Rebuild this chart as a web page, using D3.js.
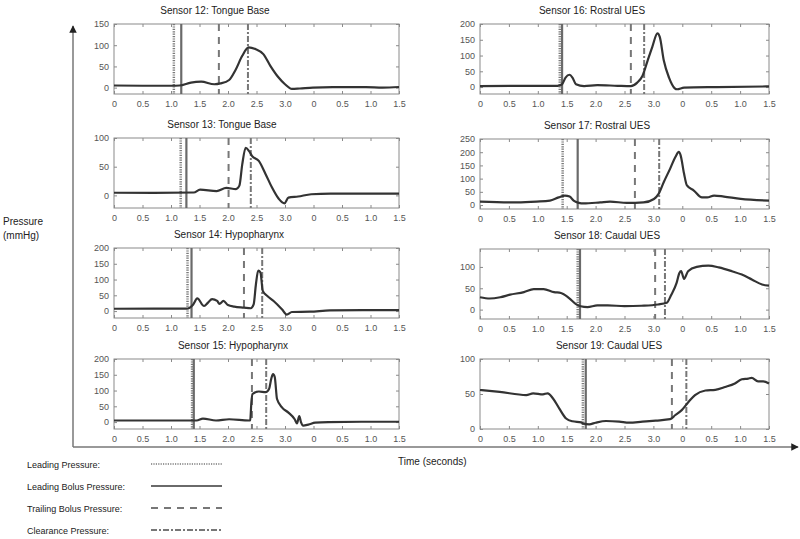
<!DOCTYPE html>
<html>
<head>
<meta charset="utf-8">
<script src="https://cdnjs.cloudflare.com/ajax/libs/d3/7.8.5/d3.min.js"></script>
<style>
  body { margin: 0; background: #fff; }
  svg { font-family: "Liberation Sans", Arial, sans-serif; }
</style>
</head>
<body>
<script>
// global sizes
var w = 800;
var h = 539;

// shared time axis (two stitched windows, labels restart after 3.0)
var xTicks = [0, 0.5, 1, 1.5, 2, 2.5, 3, 3.5, 4, 4.5, 5];
var xTickLabels = ["0", "0.5", "1.0", "1.5", "2.0", "2.5", "3.0", "0", "0.5", "1.0", "1.5"];

// panel titles
var titles = ["Sensor 12: Tongue Base", "Sensor 13: Tongue Base", "Sensor 14: Hypopharynx", "Sensor 15: Hypopharynx",
              "Sensor 16: Rostral UES", "Sensor 17: Rostral UES", "Sensor 18: Caudal UES", "Sensor 19: Caudal UES"];

// y ticks and y ranges per sensor
var yTicks12 = [0, 50, 100, 150];
var yTicks13 = [0, 50, 100];
var yTicks14 = [0, 50, 100, 150, 200];
var yTicks15 = [0, 50, 100, 150, 200];
var yTicks16 = [0, 50, 100, 150, 200];
var yTicks17 = [0, 50, 100, 150, 200, 250];
var yTicks18 = [0, 50, 100];
var yTicks19 = [0, 50, 100];

var yRange12 = [-15, 150];
var yRange13 = [-22, 100];
var yRange14 = [-22, 200];
var yRange15 = [-22, 200];
var yRange16 = [-22, 200];
var yRange17 = [-15, 250];
var yRange18 = [-22, 142];
var yRange19 = [0, 100];

// event times: leading pressure, leading bolus, trailing bolus, clearance
var events12 = [1.05, 1.18, 1.84, 2.35];
var events13 = [1.17, 1.27, 2.01, 2.40];
var events14 = [1.29, 1.36, 2.28, 2.60];
var events15 = [1.37, 1.40, 2.42, 2.67];
var events16 = [1.38, 1.42, 2.61, 2.84];
var events17 = [1.43, 1.69, 2.68, 3.10];
var events18 = [1.69, 1.73, 3.03, 3.20];
var events19 = [1.78, 1.83, 3.32, 3.57];

// pressure traces [time, mmHg]
var sensor12 = [[0, 5], [0.5, 4.5], [1.0, 4.5], [1.15, 5], [1.35, 12], [1.53, 14], [1.76, 8], [1.87, 10], [2.02, 18],
  [2.13, 41], [2.25, 75], [2.36, 95], [2.48, 91], [2.62, 79], [2.74, 52], [2.88, 25], [3.0, 8], [3.12, -3],
  [3.26, -2], [3.49, 0], [3.84, 1], [4.42, 1], [4.71, 0], [5.0, 1.5]];

var sensor13 = [[0, 4.6], [0.7, 4.5], [1.4, 5], [1.51, 10], [1.8, 7.4], [1.97, 13], [2.14, 11], [2.2, 17], [2.25, 54],
  [2.31, 83], [2.37, 77], [2.42, 69], [2.54, 60], [2.66, 37], [2.77, 14], [2.89, -6], [2.99, -14], [3.06, -4],
  [3.23, -2], [3.46, 2], [3.8, 3], [5.0, 3]];

var sensor14 = [[0, 7.4], [0.7, 7.5], [1.27, 7.5], [1.39, 21], [1.46, 40], [1.58, 16], [1.65, 27], [1.72, 38],
  [1.81, 32], [1.85, 23], [1.92, 32], [2.0, 19], [2.11, 14], [2.28, 11], [2.4, 9], [2.45, 21], [2.49, 85],
  [2.53, 128], [2.57, 122], [2.61, 64], [2.69, 48], [2.8, 32], [2.95, 5], [3.03, -11], [3.12, -3], [3.44, -2],
  [3.79, 2], [4.36, 3], [5.0, 3]];

var sensor15 = [[0, 5], [0.8, 5], [1.45, 5], [1.56, 11], [1.79, 5], [2.02, 9], [2.37, 5], [2.39, 6], [2.41, 62],
  [2.43, 89], [2.54, 97], [2.66, 95], [2.72, 105], [2.76, 138], [2.79, 152], [2.82, 143], [2.86, 73],
  [2.95, 46], [3.06, 30], [3.17, 9], [3.21, -4], [3.25, 19], [3.28, 0], [3.32, -11], [3.41, -8], [3.53, -2],
  [3.76, 0], [4.34, 1], [5.0, 1]];

var sensor16 = [[0, 3], [0.7, 4], [1.34, 4], [1.42, 9], [1.48, 30], [1.55, 39], [1.6, 30], [1.66, 9], [1.8, 3],
  [2.03, 6], [2.38, 4], [2.61, 3], [2.72, 14], [2.81, 35], [2.9, 84], [2.98, 127], [3.07, 170], [3.11, 159],
  [3.18, 84], [3.27, 30], [3.37, -4], [3.41, -7], [3.53, -2], [4.1, 0], [5.0, 2]];

var sensor17 = [[0, 13], [0.64, 10], [0.98, 13], [1.21, 17], [1.36, 29], [1.47, 36], [1.55, 32], [1.62, 17],
  [1.71, 8], [1.79, 6], [2.08, 10], [2.25, 13], [2.54, 8], [2.83, 10], [3.01, 23], [3.09, 42], [3.18, 87],
  [3.29, 138], [3.38, 182], [3.44, 201], [3.47, 189], [3.53, 119], [3.58, 74], [3.7, 55], [3.84, 29],
  [3.93, 29], [4.05, 36], [4.22, 32], [4.51, 23], [5.0, 17]];

var sensor18 = [[0, 29], [0.17, 26], [0.35, 29], [0.52, 35], [0.76, 41], [0.93, 48], [1.1, 48], [1.28, 41],
  [1.4, 39], [1.54, 27], [1.66, 13], [1.74, 8], [1.86, 6], [2.03, 10], [2.21, 10], [2.5, 8], [2.79, 9],
  [3.08, 12], [3.23, 16], [3.31, 35], [3.4, 62], [3.45, 86], [3.48, 90], [3.53, 72], [3.6, 90], [3.75, 100],
  [3.95, 103], [4.13, 99], [4.36, 90], [4.53, 82], [4.71, 70], [4.88, 59], [5.0, 56]];

var sensor19 = [[0, 55.7], [0.34, 53], [0.8, 48.5], [0.92, 51], [1.09, 49.5], [1.17, 51], [1.26, 44], [1.37, 29.5],
  [1.49, 15], [1.6, 11], [1.75, 9.5], [1.78, 8], [1.89, 6.7], [2.0, 9], [2.18, 11.4], [2.41, 10.5], [2.58, 9],
  [2.81, 10.5], [3.04, 12], [3.29, 14], [3.38, 20], [3.49, 27], [3.61, 39], [3.72, 48.5], [3.9, 55],
  [4.07, 56], [4.24, 60], [4.41, 65], [4.53, 71], [4.64, 72], [4.7, 73], [4.81, 68], [4.9, 68], [5.0, 65]];

// legend
var legendLabels = ["Leading Pressure:", "Leading Bolus Pressure:", "Trailing Bolus Pressure:", "Clearance Pressure:"];

// line styles for the four event kinds
var eventDash = ["1.2,1.2", null, "7,6", "6,2,2,2"];
var eventWidth = [2.5, 2.2, 2, 2];
var eventColor = ["#7a7a7a", "#6a6a6a", "#777", "#777"];

// panel boxes (left column, right column)
var colX = [[114, 399], [480, 769]];
var rowTop = [[24, 138, 248, 359], [24, 139, 249, 359]];
var boxH = 70;
var titleX = [[215, 222, 229, 233], [592, 597, 607, 609]];

var svg = d3.select("body")
            .append("svg")
            .attr("width", w)
            .attr("height", h);

var panels = [
  { data: sensor12, ev: events12, yt: yTicks12, yr: yRange12 },
  { data: sensor13, ev: events13, yt: yTicks13, yr: yRange13 },
  { data: sensor14, ev: events14, yt: yTicks14, yr: yRange14 },
  { data: sensor15, ev: events15, yt: yTicks15, yr: yRange15 },
  { data: sensor16, ev: events16, yt: yTicks16, yr: yRange16 },
  { data: sensor17, ev: events17, yt: yTicks17, yr: yRange17 },
  { data: sensor18, ev: events18, yt: yTicks18, yr: yRange18 },
  { data: sensor19, ev: events19, yt: yTicks19, yr: yRange19 }
];

panels.forEach(function(p, i) {
  var col = i < 4 ? 0 : 1;
  var row = i % 4;
  var left = colX[col][0], right = colX[col][1];
  var top = rowTop[col][row], bottom = top + boxH;
  drawPanel(p, i, left, right, top, bottom, titleX[col][row]);
});

function drawPanel(p, i, left, right, top, bottom, tx) {
  var xScale = d3.scaleLinear().domain([0, 5]).range([left, right]);
  var yScale = d3.scaleLinear().domain(p.yr).range([bottom, top]);

  var g = svg.append("g");

  // box
  g.append("rect")
   .attr("x", left).attr("y", top)
   .attr("width", right - left).attr("height", bottom - top)
   .attr("fill", "none").attr("stroke", "#8a8a8a").attr("stroke-width", 1);

  // bottom axis, ticks pointing inward
  var xAxis = d3.axisBottom(xScale)
                .tickValues(xTicks)
                .tickSize(-3)
                .tickPadding(7)
                .tickFormat(function(d, k) { return xTickLabels[k]; });
  var gx = g.append("g")
            .attr("transform", "translate(0," + bottom + ")")
            .call(xAxis);

  // top ticks
  var gxt = g.append("g")
             .attr("transform", "translate(0," + top + ")")
             .call(d3.axisTop(xScale).tickValues(xTicks).tickSize(-3).tickFormat(""));

  // left axis
  var gy = g.append("g")
            .attr("transform", "translate(" + left + ",0)")
            .call(d3.axisLeft(yScale).tickValues(p.yt).tickSize(-3).tickPadding(5));

  // right ticks
  var gyr = g.append("g")
             .attr("transform", "translate(" + right + ",0)")
             .call(d3.axisRight(yScale).tickValues(p.yt).tickSize(-3).tickFormat(""));

  [gx, gxt, gy, gyr].forEach(function(a) {
    a.select(".domain").remove();
    a.selectAll(".tick line").attr("stroke", "#8a8a8a");
    a.selectAll("text")
     .attr("fill", "#555")
     .style("font-size", "9px")
     .style("font-family", "Liberation Sans, Arial, sans-serif");
  });

  // event lines
  p.ev.forEach(function(t, k) {
    g.append("line")
     .attr("x1", xScale(t)).attr("x2", xScale(t))
     .attr("y1", top).attr("y2", bottom)
     .attr("stroke", eventColor[k])
     .attr("stroke-width", eventWidth[k])
     .attr("stroke-dasharray", eventDash[k]);
  });

  // pressure trace
  var line = d3.line()
               .x(function(d) { return xScale(d[0]); })
               .y(function(d) { return yScale(d[1]); })
               .curve(d3.curveMonotoneX);

  g.append("path")
   .datum(p.data)
   .attr("d", line)
   .attr("fill", "none")
   .attr("stroke", "#333")
   .attr("stroke-width", 2.2)
   .attr("stroke-linejoin", "round");

  // title
  g.append("text")
   .attr("x", tx)
   .attr("y", top - 10)
   .attr("text-anchor", "middle")
   .attr("fill", "#222")
   .style("font-size", "10px")
   .text(titles[i]);
}

// big axes arrows
svg.append("defs")
   .append("marker")
   .attr("id", "arrow")
   .attr("viewBox", "0 0 10 10")
   .attr("refX", 9).attr("refY", 5)
   .attr("markerWidth", 5).attr("markerHeight", 5)
   .attr("orient", "auto")
   .append("path")
   .attr("d", "M0,0 L10,5 L0,10 Z")
   .attr("fill", "#222");

svg.append("line")
   .attr("x1", 73).attr("y1", 447).attr("x2", 73).attr("y2", 26)
   .attr("stroke", "#777").attr("stroke-width", 1.5)
   .attr("marker-end", "url(#arrow)");

svg.append("line")
   .attr("x1", 73).attr("y1", 447).attr("x2", 798).attr("y2", 447)
   .attr("stroke", "#777").attr("stroke-width", 1.5)
   .attr("marker-end", "url(#arrow)");

svg.append("text")
   .attr("x", 398).attr("y", 465)
   .attr("fill", "#222")
   .style("font-size", "10px")
   .text("Time (seconds)");

svg.append("text")
   .attr("x", 3).attr("y", 225)
   .attr("fill", "#222")
   .style("font-size", "10px")
   .text("Pressure");

svg.append("text")
   .attr("x", 3).attr("y", 239)
   .attr("fill", "#222")
   .style("font-size", "10px")
   .text("(mmHg)");

// legend
var legendY = [465, 487, 509, 531];
legendLabels.forEach(function(lab, k) {
  svg.append("text")
     .attr("x", 27).attr("y", legendY[k] + 3)
     .attr("fill", "#222")
     .style("font-size", "9px")
     .text(lab);
  svg.append("line")
     .attr("x1", 151).attr("x2", 222)
     .attr("y1", legendY[k] - 1).attr("y2", legendY[k] - 1)
     .attr("stroke", eventColor[k])
     .attr("stroke-width", k == 0 ? 1.5 : 2)
     .attr("stroke-dasharray", eventDash[k]);
});
</script>
</body>
</html>
